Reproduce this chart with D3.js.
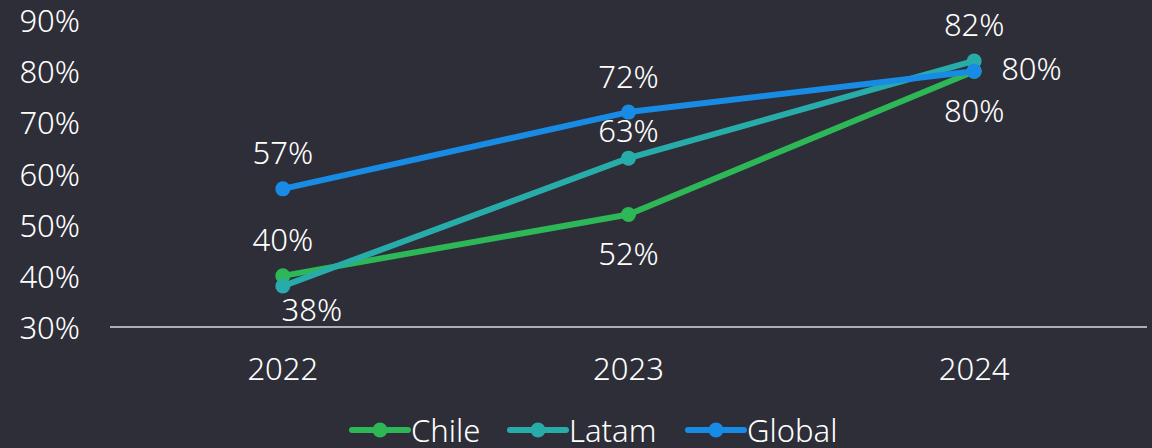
<!DOCTYPE html>
<html>
<head>
<meta charset="utf-8">
<script src="https://cdn.jsdelivr.net/npm/d3@7"></script>
<style>
  html, body { margin: 0; padding: 0; background: #2e2e38; }
  svg { display: block; }
  text { font-family: "Noto Sans", "DejaVu Sans", sans-serif; font-weight: 300; fill: #ffffff; }
</style>
</head>
<body>
<svg id="chart" width="1152" height="448"></svg>
<script>
// Survey share by year
const years = ["2022", "2023", "2024"];
const chile = [40, 52, 80];
const latam = [38, 63, 82];
const global = [57, 72, 80];
const yTicks = [30, 40, 50, 60, 70, 80, 90];

// Label placement per series/point
const chileLabelPos = ["above", "below", "below"];
const latamLabelPos = ["below-right", "above-near", "above"];
const globalLabelPos = ["above", "above", "right"];

// offsets [dx, dy, anchor] for each placement
const placements = {
  "above":       [0, -36.5, "middle"],
  "above-near":  [0, -28.5, "middle"],
  "below":       [0, 39, "middle"],
  "below-right": [29, 22.5, "middle"],
  "right":       [27, -3, "start"]
};

const series = [
  { name: "Chile", values: chile, color: "#2db757", pos: chileLabelPos },
  { name: "Latam", values: latam, color: "#27acaa", pos: latamLabelPos },
  { name: "Global", values: global, color: "#188ce5", pos: globalLabelPos }
];

const svg = d3.select("#chart");
const plotLeft = 110, plotRight = 1147, plotTop = 20, plotBottom = 327;
const fontSize = 31;

const x = d3.scalePoint().domain(years).range([plotLeft, plotRight]).padding(0.5);
const y = d3.scaleLinear().domain([30, 90]).range([plotBottom, plotTop]);

// y tick labels (no axis line)
svg.append("g").selectAll("text")
  .data(yTicks).join("text")
  .attr("x", 80)
  .attr("y", d => y(d))
  .attr("text-anchor", "end")
  .attr("dominant-baseline", "central")
  .attr("font-size", fontSize)
  .text(d => d + "%");

// baseline
svg.append("line")
  .attr("x1", plotLeft).attr("x2", plotRight)
  .attr("y1", y(30)).attr("y2", y(30))
  .attr("stroke", "#d8d8dc").attr("stroke-width", 1.5);

// x labels
svg.append("g").selectAll("text")
  .data(years).join("text")
  .attr("x", d => x(d))
  .attr("y", 368)
  .attr("text-anchor", "middle")
  .attr("dominant-baseline", "central")
  .attr("font-size", fontSize)
  .text(d => d);

const line = d3.line().x((d, i) => x(years[i])).y(d => y(d));

// lines drawn in order so Global sits on top
series.forEach(s => {
  const g = svg.append("g");
  g.append("path")
    .datum(s.values)
    .attr("d", line)
    .attr("fill", "none")
    .attr("stroke", s.color)
    .attr("stroke-width", 6)
    .attr("stroke-linejoin", "round");
  g.selectAll("circle")
    .data(s.values).join("circle")
    .attr("cx", (d, i) => x(years[i]))
    .attr("cy", d => y(d))
    .attr("r", 7.5)
    .attr("fill", s.color);
});

// value labels
series.forEach(s => {
  svg.append("g").selectAll("text")
    .data(s.values).join("text")
    .attr("font-size", fontSize)
    .attr("dominant-baseline", "central")
    .attr("text-anchor", (d, i) => placements[s.pos[i]][2])
    .attr("x", (d, i) => x(years[i]) + placements[s.pos[i]][0])
    .attr("y", (d, i) => y(d) + placements[s.pos[i]][1])
    .text(d => d + "%");
});

// legend
const legend = svg.append("g");
const legendX = [352, 510, 688];
series.forEach((s, i) => {
  const g = legend.append("g").attr("transform", `translate(${legendX[i]},430)`);
  g.append("line").attr("x1", 0).attr("x2", 56).attr("y1", 0).attr("y2", 0)
    .attr("stroke", s.color).attr("stroke-width", 6).attr("stroke-linecap", "round");
  g.append("circle").attr("cx", 28).attr("cy", 0).attr("r", 7.5).attr("fill", s.color);
  g.append("text").attr("x", 59).attr("y", 0)
    .attr("dominant-baseline", "central")
    .attr("font-size", fontSize)
    .text(s.name);
});
</script>
</body>
</html>
